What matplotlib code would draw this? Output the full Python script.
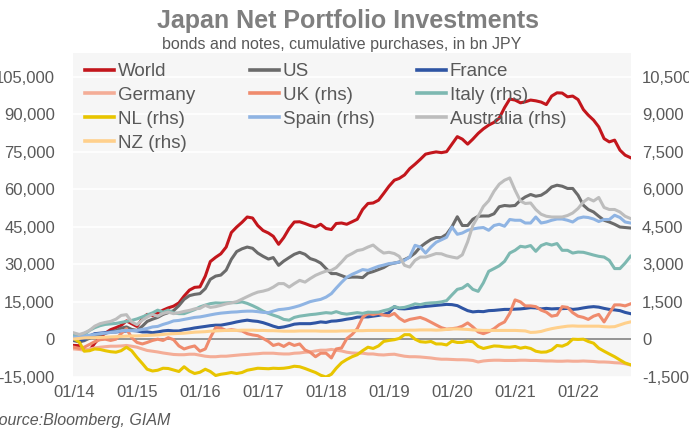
import matplotlib
matplotlib.use('Agg')
import matplotlib.pyplot as plt
import matplotlib.dates as mdates
from matplotlib.lines import Line2D
from matplotlib.ticker import FixedLocator, FuncFormatter
import pandas as pd

plt.rcParams['font.family'] = ['Liberation Sans', 'DejaVu Sans']
plt.rcParams['axes.unicode_minus'] = False

dates = pd.date_range('2014-01-01', periods=107, freq='MS')

# ---- left-hand-side series (bn JPY) ----
world = [-2400, -2500, -4200, -4400, -1500, 900, 2500, 3900, 4700, 5600,
         7400, 6300, 5200, 8300, 10000, 9500, 10600, 11700, 12600, 13300,
         14600, 17300, 19700, 20800, 21000, 25300, 31100, 32800, 34200, 36900,
         42700, 44900, 46800, 48900, 48500, 45500, 43500, 42500, 41200, 38000,
         40700, 44300, 46900, 47000, 46300, 45500, 44900, 46000, 44300, 43900,
         46300, 46500, 46000, 47000, 48000, 51900, 54300, 54500, 55600, 58300,
         61200, 63600, 64300, 65700, 68200, 70000, 71900, 74000, 74500, 74900,
         74600, 75000, 78000, 81000, 80000, 78000, 80000, 82300, 84100, 85600,
         86700, 88400, 92600, 96000, 95600, 94500, 94900, 95600, 95300, 94800,
         93800, 97200, 98500, 98400, 96900, 97200, 95800, 91800, 89600, 87600,
         84900, 80200, 78900, 79600, 75600, 73600, 72600]
us = [-500, -1000, -500, 500, 1500, 2000, 2500, 3000, 3500, 4500,
      5000, 4000, 3600, 5300, 7200, 8100, 8800, 10000, 10700, 11500,
      13500, 16000, 17500, 18000, 18300, 20300, 24000, 25300, 25700, 27700,
      32000, 35100, 36200, 36900, 36400, 34500, 33200, 32100, 32700, 29600,
      31300, 32700, 34000, 34800, 34000, 32300, 31600, 30500, 28300, 26300,
      26300, 25500, 24700, 24900, 24900, 24700, 26500, 27100, 27900, 28700,
      30000, 30500, 30900, 31900, 32900, 34500, 36900, 38500, 39900, 40700,
      40700, 42000, 45000, 49000, 45500, 45500, 48000, 49200, 49300, 49300,
      50200, 53000, 53500, 53300, 53500, 55600, 56900, 57900, 57200, 57600,
      58900, 60900, 61600, 61200, 60300, 60300, 57600, 53600, 51900, 50900,
      49200, 47600, 46900, 46000, 44900, 44700, 44500]
france = [-100, -300, -100, 1400, 2300, 2500, 2700, 3000, 3000, 3200,
          3400, 3600, 3400, 3000, 3000, 2700, 3000, 3400, 3600, 3400,
          3400, 3900, 4200, 4600, 4900, 5200, 5500, 5700, 5700, 6100,
          6500, 7000, 7400, 7700, 7400, 7200, 6700, 6000, 5300, 4700,
          5000, 5500, 6100, 6300, 6300, 6300, 6600, 7000, 6800, 7300,
          7400, 7700, 8100, 8400, 8900, 9000, 9000, 9300, 9600, 10000,
          10700, 13100, 12300, 12200, 12400, 12700, 13000, 13200, 13400, 13600,
          13800, 14000, 13900, 13500, 12500, 11500, 11000, 11200, 11100, 11500,
          11600, 11800, 12000, 12000, 12100, 12200, 12400, 12700, 12600, 12200,
          12400, 12200, 12300, 12300, 12400, 12000, 12200, 12600, 12900, 13100,
          12900, 12400, 12000, 11800, 11500, 10800, 10300]
germany = [-3800, -4000, -4300, -3800, -3400, -3100, -2900, -2700, -2700, -2600,
           -2400, -2700, -3100, -3800, -4400, -4700, -5000, -5400, -5700, -6000,
           -6100, -6100, -5900, -5900, -6300, -6700, -6900, -6900, -6700, -6700,
           -6500, -6300, -6100, -6000, -5800, -5700, -5500, -5500, -5500, -5700,
           -5800, -5800, -5500, -5400, -5100, -5000, -4600, -4300, -4300, -4000,
           -4300, -4600, -5100, -5400, -5500, -5500, -5800, -5800, -6100, -6200,
           -6000, -5900, -6300, -6700, -6900, -6900, -7000, -7200, -7400, -7700,
           -7900, -7900, -8000, -8100, -8100, -8200, -8400, -9000, -8600, -8400,
           -8300, -8300, -8400, -8400, -8400, -8300, -8300, -8400, -8400, -8500,
           -8600, -8600, -8700, -8700, -8600, -8700, -8700, -8600, -8700, -8800,
           -9000, -9000, -9100, -9300, -9400, -9700, -10200]

# ---- right-hand-side series (bn JPY) ----
uk = [-310, -360, -310, -200, -90, -10, 10, -40, 10, 230,
      430, 70, -120, -180, -120, -40, 10, -40, 70, -10,
      -260, -380, -310, -260, -470, -380, 70, 470, 450, 360,
      390, 360, 340, 230, 180, 150, 40, -80, -240, -180,
      -280, -150, -240, -180, -420, -510, -690, -550, -550, -740,
      -380, -340, 30, 200, 430, 880, 1040, 990, 1040, 970,
      940, 1040, 850, 720, 800, 840, 880, 800, 690, 580,
      470, 410, 430, 460, 530, 660, 500, 300, 230, 310,
      430, 590, 700, 1040, 1580, 1500, 1340, 1340, 1310, 1170,
      1090, 930, 970, 1310, 1280, 1070, 930, 880, 800, 930,
      1000, 700, 1040, 1380, 1380, 1340, 1420]
italy = [160, 90, 200, 360, 470, 550, 600, 620, 640, 680,
         720, 760, 820, 900, 980, 1060, 1170, 1090, 1170, 1060,
         1030, 1030, 1110, 1190, 1300, 1370, 1430, 1460, 1450, 1460,
         1470, 1470, 1500, 1440, 1350, 1250, 1130, 1040, 970, 900,
         800, 770, 880, 930, 960, 990, 1010, 1040, 1070, 1050,
         1110, 1040, 1010, 1040, 1070, 1040, 1090, 1080, 1090, 1150,
         1200, 1310, 1260, 1280, 1340, 1420, 1390, 1440, 1460, 1470,
         1500, 1550, 1780, 2000, 2050, 2200, 2000, 1920, 2260, 2720,
         2830, 2940, 3120, 3450, 3560, 3720, 3690, 3750, 3520, 3750,
         3830, 3770, 3830, 3560, 3560, 3450, 3490, 3480, 3430, 3370,
         3320, 3290, 3160, 2830, 2830, 3050, 3320]
nl = [30, -110, -470, -450, -380, -400, -450, -490, -510, -450,
      -310, -450, -720, -960, -1190, -1260, -1230, -1150, -1160, -1220,
      -1280, -1090, -1260, -1360, -1310, -1190, -1280, -1440, -1390, -1360,
      -1320, -1360, -1320, -1230, -1190, -1150, -1160, -1170, -1150, -1160,
      -1150, -1120, -1070, -1090, -1160, -1240, -1320, -1430, -1500, -1390,
      -1150, -930, -800, -690, -610, -450, -310, -360, -260, -80,
      -40, -10, 40, 190, 190, 10, -90, -110, -80, -180,
      -180, -220, -70, -120, -120, -70, -90, -280, -360, -310,
      -260, -270, -300, -310, -280, -350, -310, -360, -470, -510,
      -500, -420, -240, -270, -180, 10, 0, 10, -80, -150,
      -350, -470, -580, -690, -820, -940, -1010]
spain = [90, 90, 130, 170, 200, 230, 250, 280, 310, 340,
         360, 350, 360, 400, 440, 500, 520, 600, 660, 740,
         760, 800, 840, 880, 900, 940, 980, 1020, 1050, 1070,
         1090, 1100, 1120, 1130, 1130, 1110, 1080, 1070, 1130, 1190,
         1210, 1240, 1290, 1350, 1430, 1510, 1560, 1600, 1690, 1830,
         2050, 2280, 2480, 2600, 2690, 2790, 2760, 2840, 2920, 2970,
         3030, 3050, 3090, 3160, 3290, 3760, 3690, 3450, 3690, 3880,
         3980, 4080, 4490, 4200, 4250, 4360, 4410, 4450, 4470, 4360,
         4550, 4600, 4520, 4790, 4760, 4760, 4650, 4650, 4890, 4650,
         4690, 4760, 4810, 4810, 4760, 4690, 4840, 4890, 4870, 4810,
         4710, 4790, 4790, 4960, 4870, 4690, 4650]
australia = [260, 200, 260, 360, 530, 630, 680, 720, 810, 960,
             990, 700, 590, 770, 890, 1000, 930, 1040, 1090, 1030,
             1070, 1120, 1160, 1220, 1240, 1360, 1280, 1310, 1360, 1420,
             1460, 1510, 1610, 1710, 1810, 1890, 1930, 1990, 2090, 2230,
             2230, 2090, 2230, 2360, 2290, 2430, 2560, 2650, 2730, 2760,
             2870, 3090, 3320, 3430, 3550, 3590, 3690, 3770, 3590, 3450,
             3480, 3430, 3320, 2960, 2890, 3160, 3290, 3290, 3360, 3430,
             3420, 3340, 3290, 3250, 3380, 3900, 4550, 4920, 5310, 5540,
             5920, 6200, 6360, 6450, 5960, 5530, 5430, 5450, 5190, 5000,
             4920, 4890, 4890, 4890, 4950, 5050, 5230, 5490, 5630, 5530,
             5670, 5270, 5190, 5190, 5090, 4920, 4830]
nz = [20, 40, 60, 70, 70, 80, 90, 100, 110, 120,
      130, 140, 140, 150, 160, 170, 180, 200, 220, 230,
      240, 250, 270, 290, 300, 310, 330, 340, 350, 360,
      360, 360, 370, 370, 370, 360, 360, 350, 350, 340,
      330, 330, 330, 340, 340, 340, 340, 330, 330, 330,
      330, 340, 340, 350, 350, 350, 360, 360, 360, 360,
      360, 360, 360, 370, 370, 370, 380, 380, 380, 370,
      380, 400, 420, 420, 410, 400, 380, 370, 360, 360,
      360, 360, 360, 360, 360, 350, 340, 280, 290, 320,
      380, 430, 470, 500, 530, 540, 530, 530, 530, 530,
      530, 510, 500, 510, 580, 650, 700]

left_ticks = [-15000, 0, 15000, 30000, 45000, 60000, 75000, 90000, 105000]
right_ticks = [-1500, 0, 1500, 3000, 4500, 6000, 7500, 9000, 10500]
year_ticks = pd.date_range('2014-01-01', '2022-01-01', freq='YS')

lhs = [('World', world, '#c3161c'),
       ('US', us, '#6b6b6b'),
       ('France', france, '#2f55a4'),
       ('Germany', germany, '#f4ad97')]
rhs = [('UK (rhs)', uk, '#ef8b6d'),
       ('Italy (rhs)', italy, '#7db8b1'),
       ('NL (rhs)', nl, '#e8c500'),
       ('Spain (rhs)', spain, '#8fb4e3'),
       ('Australia (rhs)', australia, '#bdbdbd'),
       ('NZ (rhs)', nz, '#ffd08c')]

W, H = 689, 428
fig = plt.figure(figsize=(W / 100, H / 100), dpi=100)
fig.patch.set_facecolor('white')
ax = fig.add_axes([73 / W, 1 - 377 / H, (631 - 73) / W, (377 - 53) / H])
ax.set_facecolor('#f6f6f6')
ax.set_ylim(-15000, 114400)
ax.set_xlim(pd.Timestamp('2013-12-26'), pd.Timestamp('2022-11-04'))
ax.yaxis.set_major_locator(FixedLocator(left_ticks))
ax.yaxis.set_major_formatter(FuncFormatter(lambda v, p: f'{v:,.0f}'))
ax.grid(axis='y', color='white', lw=1.2)
ax.set_axisbelow(True)
for s in ax.spines.values():
    s.set_visible(False)
ax.axhline(0, color='#8c8c8c', lw=1.3, zorder=1.5)
ax.set_xticks(year_ticks)
ax.xaxis.set_major_formatter(mdates.DateFormatter('%m/%y'))
ax.tick_params(axis='x', length=0, pad=6, labelsize=12, labelcolor='#595959')
ax.tick_params(axis='y', length=0, pad=13, labelsize=12, labelcolor='#595959')

lw = 2.2
for name, vals, col in lhs:
    ax.plot(dates, vals, color=col, lw=lw, solid_joinstyle='round', zorder=2)

ax2 = ax.twinx()
ax2.set_ylim(-1500, 11440)
ax2.yaxis.set_major_locator(FixedLocator(right_ticks))
ax2.yaxis.set_major_formatter(FuncFormatter(lambda v, p: f'{v:,.0f}'))
ax2.tick_params(axis='y', length=0, pad=8, labelsize=12, labelcolor='#595959')
for s in ax2.spines.values():
    s.set_visible(False)
for name, vals, col in rhs:
    ax2.plot(dates, vals, color=col, lw=lw, solid_joinstyle='round')

# legend in three columns
styles = {n: c for n, v, c in lhs + rhs}
columns = [['World', 'Germany', 'NL (rhs)', 'NZ (rhs)'],
           ['US', 'UK (rhs)', 'Spain (rhs)'],
           ['France', 'Italy (rhs)', 'Australia (rhs)']]
col_x = [85, 250, 417]
legs = []
for cx, names in zip(col_x, columns):
    handles = [Line2D([], [], color=styles[n], lw=2.6) for n in names]
    leg = ax2.legend(handles, names, loc='upper left',
                     bbox_to_anchor=((cx - 73) / 558, 1 - (63 - 53) / 324),
                     frameon=False, fontsize=13.5, handlelength=1.55,
                     handletextpad=0.2, labelspacing=0.36, borderpad=0,
                     borderaxespad=0, labelcolor='#595959')
    legs.append(leg)
for leg in legs[:-1]:
    ax2.add_artist(leg)

fig.text(348 / W, 1 - 21 / H, 'Japan Net Portfolio Investments', ha='center',
         va='center', fontsize=18, fontweight='bold', color='#7f7f7f')
fig.text(342 / W, 1 - 45 / H, 'bonds and notes, cumulative purchases, in bn JPY',
         ha='center', va='center', fontsize=11.5, color='#595959')
fig.text(-12.5 / W, 1 - 420 / H, 'Source:Bloomberg, GIAM', ha='left', va='center',
         fontsize=11.5, style='italic', color='#595959')

fig.savefig('out.png', dpi=100)
